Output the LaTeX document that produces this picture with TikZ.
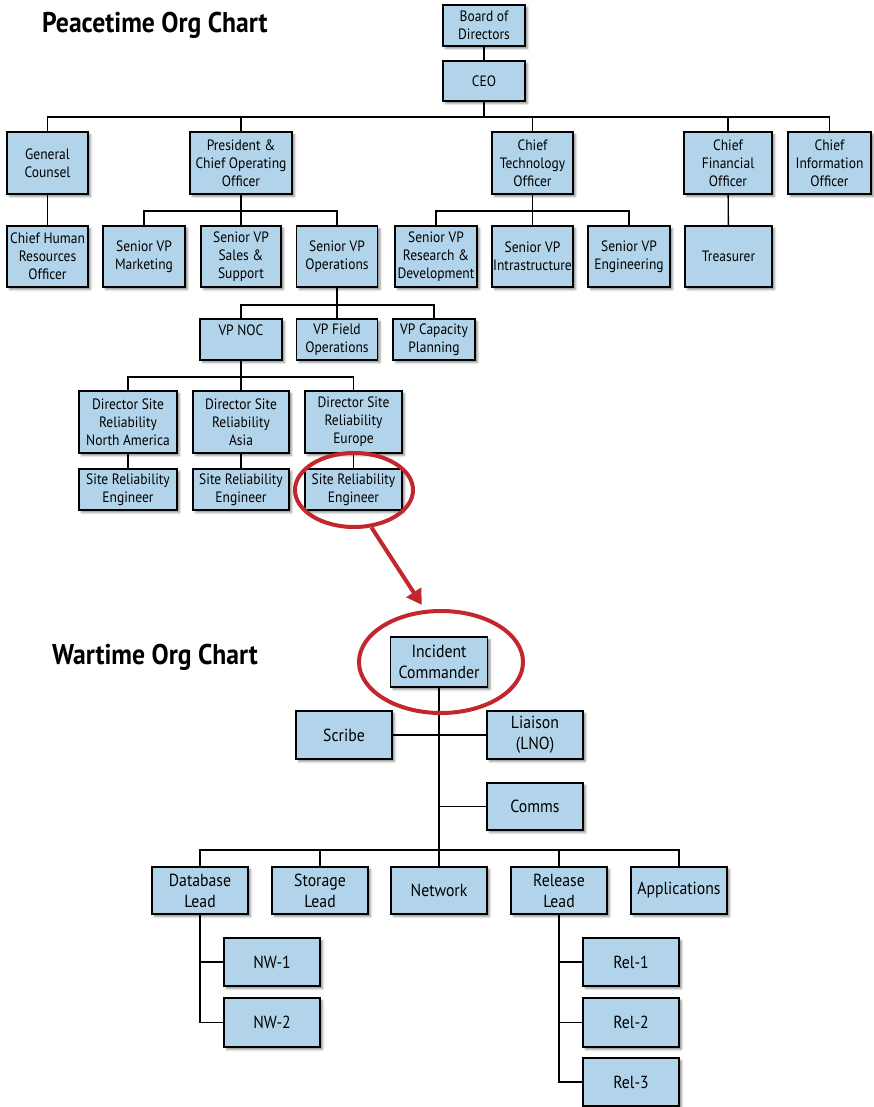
\documentclass[tikz,border=0pt]{standalone}
\usepackage{fontspec}
\setmainfont{PT Sans}
\newfontfamily\narrowsans[FakeStretch=0.9]{PT Sans}
\usetikzlibrary{shapes.geometric,shadows.blur,arrows.meta}
\definecolor{boxblue}{RGB}{178,212,234}
\definecolor{ringred}{RGB}{193,39,45}
\tikzset{
  orgbox/.style={draw=black, line width=1.6pt, fill=boxblue, align=center, inner sep=1pt,
    blur shadow={shadow xshift=2.5pt, shadow yshift=-2.5pt, shadow blur radius=2pt, shadow opacity=45}},
  sz/.style 2 args={minimum width=#1pt, minimum height=#2pt},
  peace/.style={orgbox, font=\narrowsans\fontsize{15}{18}\selectfont},
  war/.style={orgbox, font=\narrowsans\fontsize{17.5}{21}\selectfont},
  link/.style={line width=1.4pt, draw=black},
  ring/.style={ellipse, draw=ringred, line width=4pt, inner sep=0pt},
  charttitle/.style={anchor=base west, inner sep=0pt, font=\narrowsans\bfseries\fontsize{28.5}{32}\selectfont}
}
\begin{document}
\begin{tikzpicture}[x=1pt, y=-1pt]
\useasboundingbox (0,0) rectangle (873,1107);

% titles
\node[charttitle] (peaceTitle) at (42,33) {Peacetime Org Chart};
\node[charttitle] (warTitle) at (52,664) {Wartime Org Chart};

% bus heights
\coordinate (busA) at (0,117);
\coordinate (busB) at (0,211);
\coordinate (busC) at (0,305);
\coordinate (busD) at (0,377);
\coordinate (busW) at (0,850);

% ---------- peacetime boxes ----------
\node[peace, sz={82}{41}] (bod) at (484,25.5) {Board of\\Directors};
\node[peace, sz={82}{40}] (ceo) at (484,81) {CEO};
\node[peace, sz={81}{62}] (gc) at (47.5,163) {General\\Counsel};
\node[peace, sz={102}{62}] (pres) at (241,163) {President \&\\Chief Operating\\Officer};
\node[peace, sz={81}{62}] (cto) at (532.5,163) {Chief\\Technology\\Officer};
\node[peace, sz={88}{62}] (cfo) at (728,163) {Chief\\Financial\\Officer};
\node[peace, sz={83}{62}] (cio) at (829.5,163) {Chief\\Information\\Officer};
\node[peace, sz={81}{61}] (chro) at (47.5,256.5) {Chief Human\\Resources\\Officer};
\node[peace, sz={82}{61}] (svpm) at (144,256.5) {Senior VP\\Marketing};
\node[peace, sz={80}{61}] (svps) at (241,256.5) {Senior VP\\Sales \&\\Support};
\node[peace, sz={81}{61}] (svpo) at (337,256.5) {Senior VP\\Operations};
\node[peace, sz={82}{61}] (svprd) at (436,256.5) {Senior VP\\Research \&\\Development};
\node[peace, sz={81}{61}] (svpi) at (532.5,256.5) {Senior VP\\Intrastructure};
\node[peace, sz={82}{61}] (svpe) at (629,256.5) {Senior VP\\Engineering};
\node[peace, sz={87}{61}] (treas) at (728.5,256.5) {Treasurer};
\node[peace, sz={82}{41}] (vpnoc) at (241,339.5) {VP NOC\\\phantom{X}};
\node[peace, sz={81}{41}] (vpfo) at (337,339.5) {VP Field\\Operations};
\node[peace, sz={82}{41}] (vpcap) at (434,339.5) {VP Capacity\\Planning};
\node[peace, sz={98}{62}] (dna) at (128,422) {Director Site\\Reliability\\North America};
\node[peace, sz={96}{62}] (das) at (241,422) {Director Site\\Reliability\\Asia};
\node[peace, sz={97}{62}] (deu) at (353.5,422) {Director Site\\Reliability\\Europe};
\node[peace, sz={98}{41}] (sna) at (128,489.5) {Site Reliability\\Engineer};
\node[peace, sz={96}{41}] (sas) at (241,489.5) {Site Reliability\\Engineer};
\node[peace, sz={97}{41}] (seu) at (353.5,489.5) {Site Reliability\\Engineer};

% ---------- peacetime connectors ----------
\draw[link] (bod) -- (ceo);
\foreach \child in {gc,pres,cto,cfo,cio}
  \draw[link] (ceo.south) -- (ceo.south |- busA) -| (\child.north);
\draw[link] (gc) -- (chro);
\draw[link] (cfo) -- (treas);
\foreach \child in {svpm,svps,svpo}
  \draw[link] (pres.south) -- (pres.south |- busB) -| (\child.north);
\foreach \child in {svprd,svpi,svpe}
  \draw[link] (cto.south) -- (cto.south |- busB) -| (\child.north);
\foreach \child in {vpnoc,vpfo,vpcap}
  \draw[link] (svpo.south) -- (svpo.south |- busC) -| (\child.north);
\foreach \child in {dna,das,deu}
  \draw[link] (vpnoc.south) -- (vpnoc.south |- busD) -| (\child.north);
\draw[link] (dna) -- (sna);
\draw[link] (das) -- (sas);
\draw[link] (deu) -- (seu);

% ---------- wartime boxes ----------
\node[war, sz={97}{50}] (ic) at (439,662) {Incident\\Commander};
\node[war, sz={96}{48}] (scribe) at (344,735) {Scribe};
\node[war, sz={96}{48}] (liaison) at (535,735) {Liaison\\(LNO)};
\node[war, sz={96}{47}] (comms) at (535,806.5) {Comms};
\node[war, sz={96}{47}] (db) at (200,890.5) {Database\\Lead};
\node[war, sz={96}{47}] (stor) at (320,890.5) {Storage\\Lead};
\node[war, sz={96}{47}] (net) at (439,890.5) {Network};
\node[war, sz={96}{47}] (rel) at (559,890.5) {Release\\Lead};
\node[war, sz={96}{47}] (apps) at (679,890.5) {Applications};
\node[war, sz={96}{48}] (nw1) at (272,962) {NW-1};
\node[war, sz={96}{49}] (nw2) at (272,1022.5) {NW-2};
\node[war, sz={96}{48}] (r1) at (631,962) {Rel-1};
\node[war, sz={96}{49}] (r2) at (631,1022.5) {Rel-2};
\node[war, sz={96}{48}] (r3) at (631,1082) {Rel-3};

% ---------- wartime connectors ----------
\draw[link] (ic.south) -- (net.north);
\draw[link] (scribe.east) -- (liaison.west);
\draw[link] (ic.south |- comms.west) -- (comms.west);
\foreach \child in {db,stor,rel,apps}
  \draw[link] (ic.south |- busW) -| (\child.north);
\draw[link] (db.south) |- (nw2.west);
\draw[link] (db.south |- nw1.west) -- (nw1.west);
\draw[link] (rel.south) |- (r3.west);
\draw[link] (rel.south |- r1.west) -- (r1.west);
\draw[link] (rel.south |- r2.west) -- (r2.west);

% ---------- highlight rings and arrow ----------
\node[ring, minimum width=118pt, minimum height=74pt] (ringSRE) at (354,490) {};
\node[ring, minimum width=164pt, minimum height=102pt] (ringIC) at (441,662) {};
\draw[ringred, line width=4pt, shorten >=6pt, -{Triangle[length=15pt,width=17pt]}]
  (ringSRE.-65) -- (ringIC.107);
\end{tikzpicture}
\end{document}
